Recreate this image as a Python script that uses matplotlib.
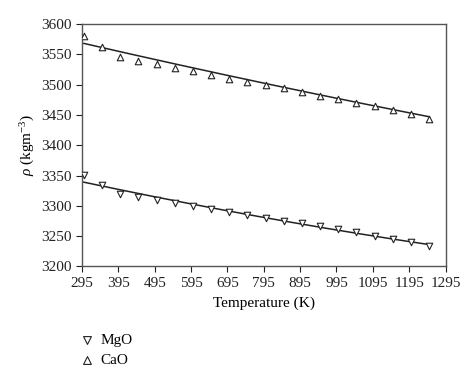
import numpy as np
import matplotlib
matplotlib.use('Agg')
import matplotlib.pyplot as plt

plt.rcParams['font.family'] = ['Liberation Serif', 'DejaVu Serif']
plt.rcParams['mathtext.fontset'] = 'custom'
plt.rcParams['mathtext.rm'] = 'Liberation Serif'
plt.rcParams['mathtext.it'] = 'Liberation Serif:italic'

# temperatures (K)
temperature = [300, 350, 400, 450, 500, 550, 600, 650, 700, 750,
               800, 850, 900, 950, 1000, 1050, 1100, 1150, 1200, 1250]

# density (kg m^-3)
rho_mgo = [3351, 3335, 3319, 3314, 3310, 3305, 3300, 3295, 3290, 3285,
           3280, 3275, 3271, 3266, 3261, 3256, 3251, 3245, 3240, 3234]
rho_cao = [3580, 3562, 3545, 3539, 3534, 3528, 3522, 3516, 3510, 3505,
           3499, 3494, 3488, 3482, 3476, 3470, 3464, 3458, 3451, 3444]

# fitted curves
fit_t = [300, 775, 1250]
fit_mgo = [3339, 3283, 3236]
fit_cao = [3568, 3505, 3447]

xticks = list(range(295, 1296, 100))
yticks = list(range(3200, 3601, 50))

fig = plt.figure(figsize=(4.74, 3.83), dpi=100)
ax = fig.add_axes([0.173, 0.3044, 0.767, 0.6329])

t = np.array(temperature)
tt = np.linspace(300, 1250, 200)
for fit_y in (fit_mgo, fit_cao):
    c = np.polyfit(fit_t, fit_y, 2)
    ax.plot(tt, np.polyval(c, tt), color='#222222', lw=1.1, zorder=2)

h1 = ax.scatter(t, rho_mgo, marker='v', s=22, facecolors='white', edgecolors='#222222', linewidths=0.8, zorder=3)
h2 = ax.scatter(t, rho_cao, marker='^', s=22, facecolors='white', edgecolors='#222222', linewidths=0.8, zorder=3)

ax.set_xlim(295, 1295)
ax.set_ylim(3200, 3600)
ax.set_xticks(xticks)
ax.set_yticks(yticks)
ax.tick_params(direction='out', length=4, width=0.8, labelsize=11, colors='#222222', top=False, right=False)
for s in ax.spines.values():
    s.set_color('#555555')
    s.set_linewidth(1.0)

ax.set_xlabel('Temperature (K)', fontsize=11, labelpad=5)
ax.set_ylabel(r'$\rho$ (kgm$^{-3}$)', fontsize=11, labelpad=3)

fig.legend([h1, h2], ['MgO', 'CaO'], loc='upper left', bbox_to_anchor=(0.138, 0.166),
           frameon=False, fontsize=11, handletextpad=0.4, labelspacing=0.4, handlelength=1.0,
           markerscale=1.2)

fig.savefig('out.png', dpi=100, facecolor='white')
